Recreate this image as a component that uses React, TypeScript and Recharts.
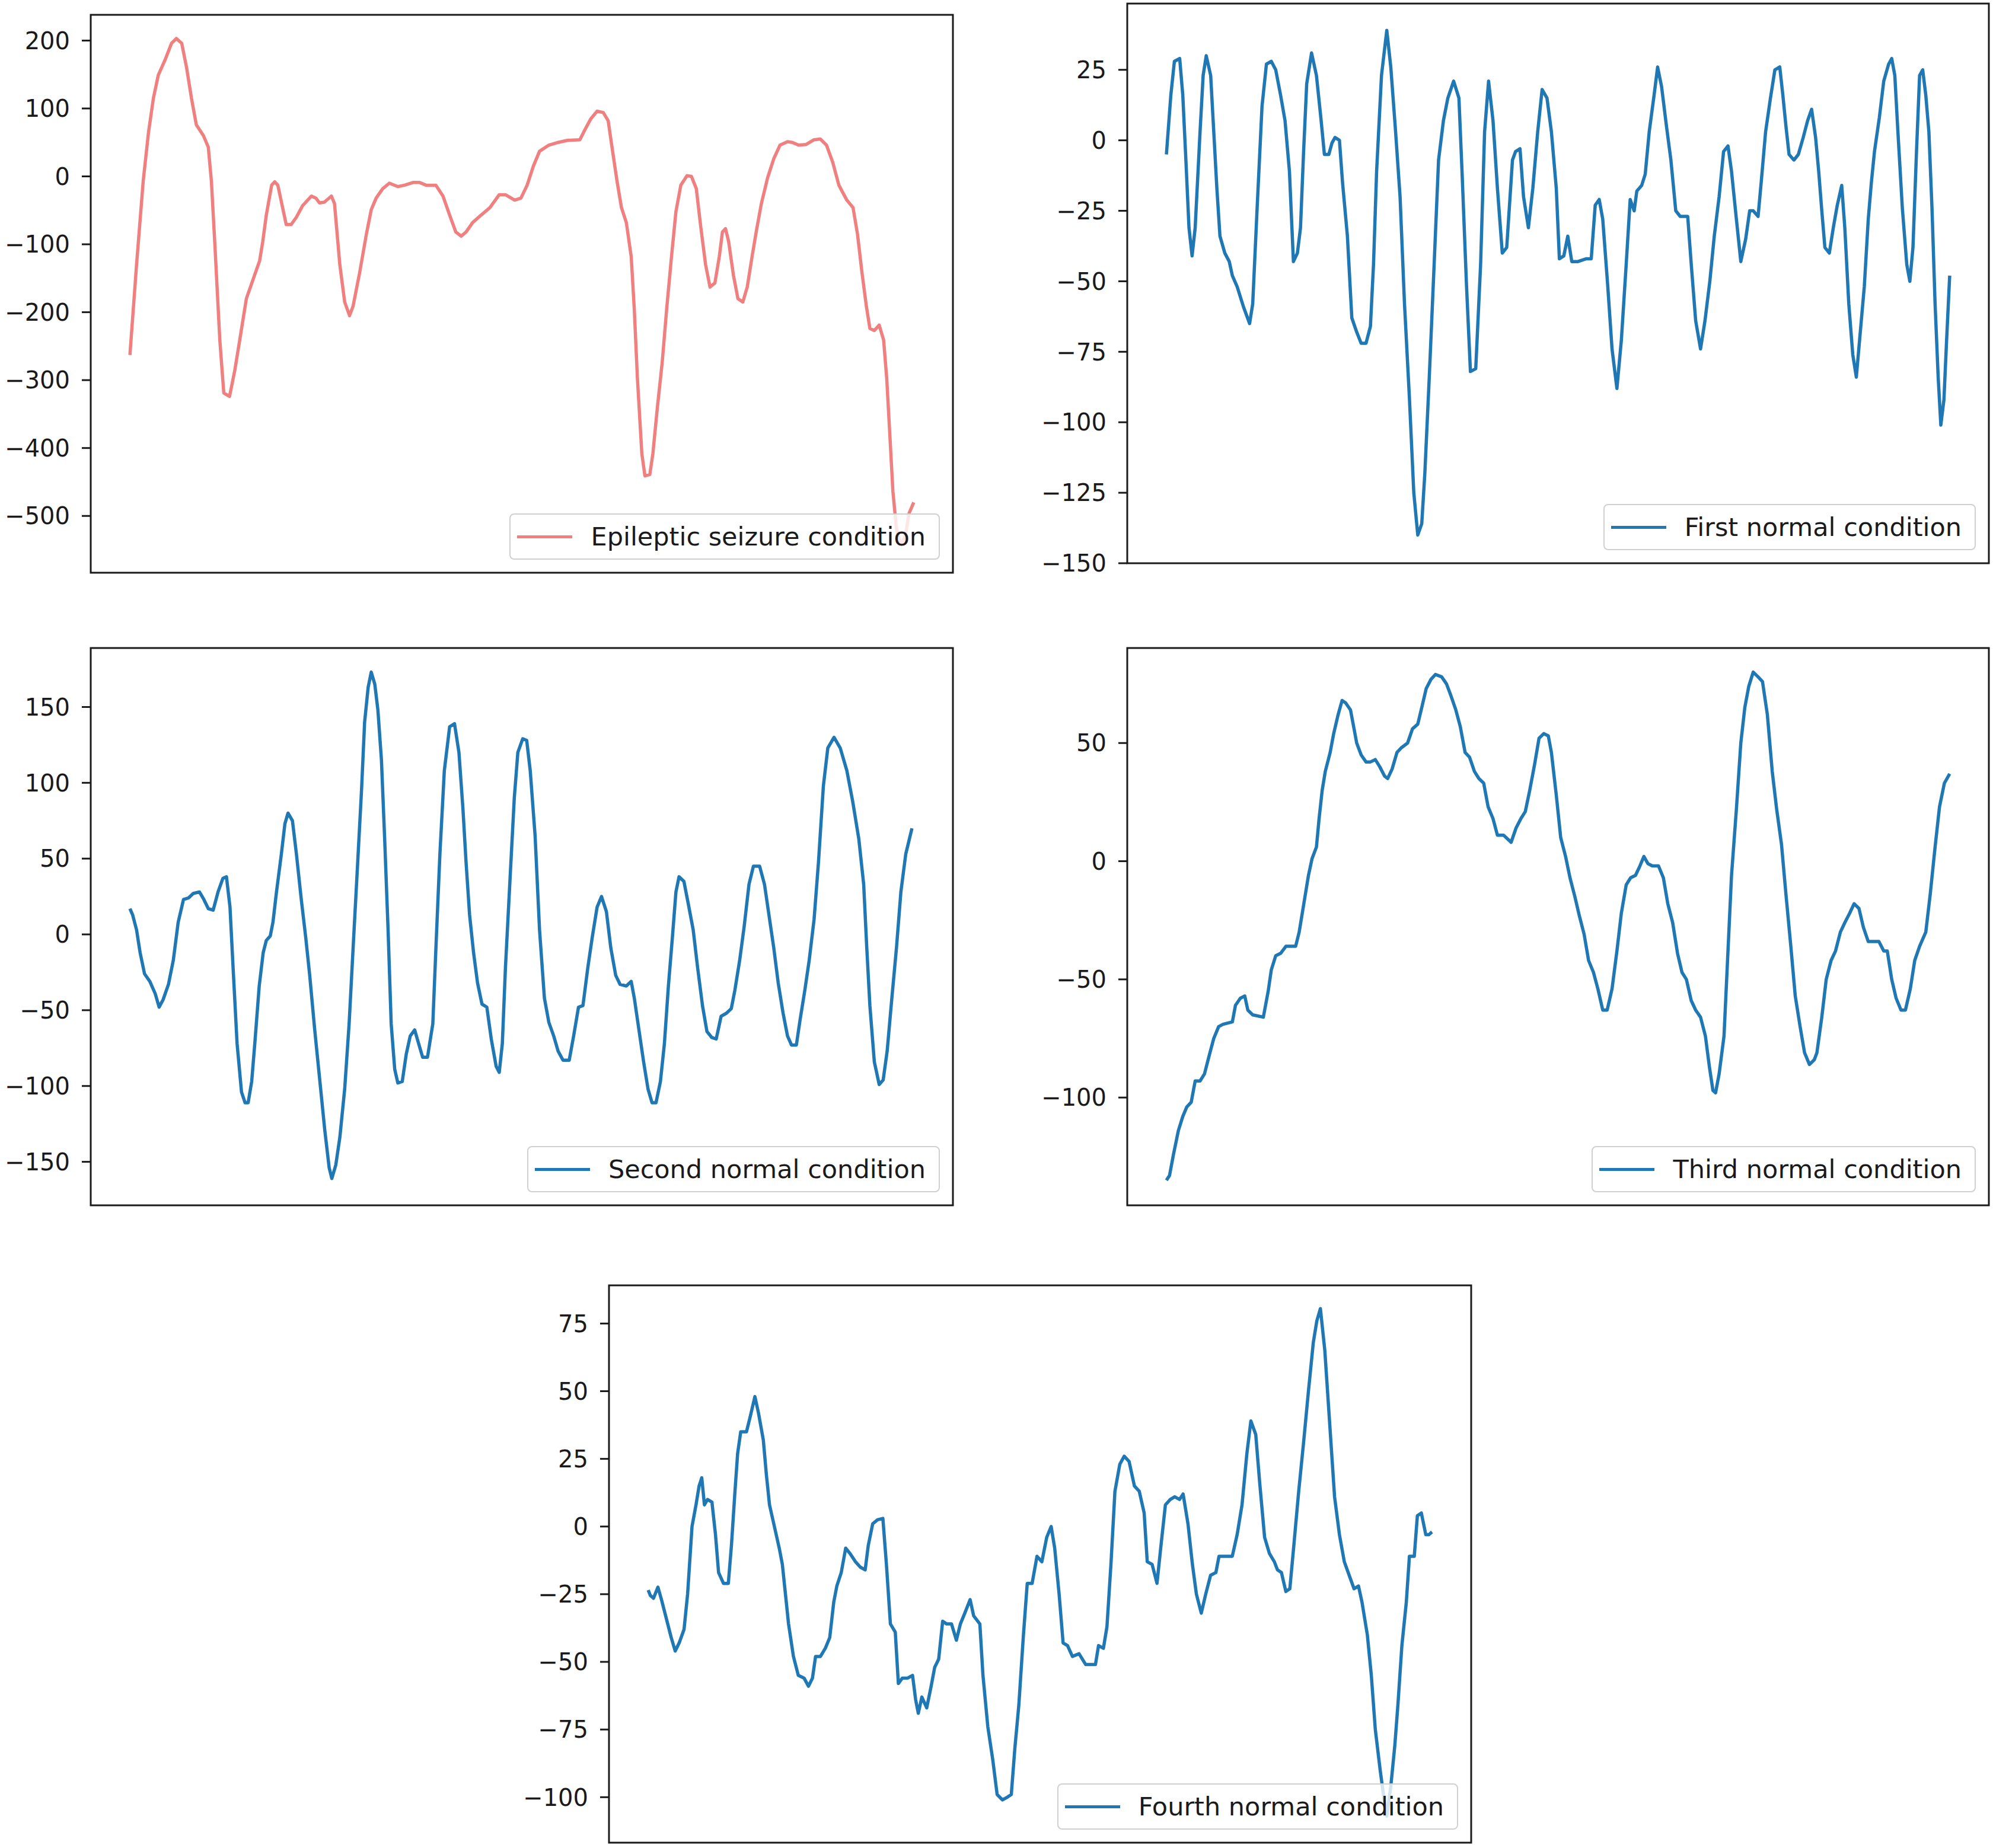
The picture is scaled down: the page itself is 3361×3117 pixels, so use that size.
import React from "react";
import { LineChart, Line, XAxis, YAxis, Legend, ReferenceArea } from "recharts";

// [sample index, amplitude] (178 samples per segment)
type Pt = [number, number];

const seizure: Pt[] = [
  [0, -263], [1.5, -130], [3, -7], [4.2, 65], [5.3, 115], [6.4, 149], [7.9, 171], [9.4, 196],
  [10.5, 203], [11.7, 196], [12.8, 160], [13.9, 115], [15, 76], [16.6, 60], [17.7, 43], [18.4, -7],
  [19.2, -102], [20.3, -241], [21.2, -319], [22.5, -324], [23.7, -285], [24.8, -241], [26.3, -180],
  [27.8, -152], [29.3, -124], [30, -96], [30.8, -57], [32, -13], [32.7, -8], [33.4, -13], [35.3, -71],
  [36.4, -71], [37.6, -60], [39, -43], [41, -29], [42, -32], [42.8, -39], [43.9, -38], [45.5, -29],
  [46.2, -40], [47.4, -130], [48.5, -185], [49.6, -205], [50.4, -191], [51.9, -141], [53.4, -85],
  [54.5, -49], [55.6, -32], [57.1, -18], [58.6, -10], [60.5, -15], [62, -13], [63.9, -9], [65.4, -9],
  [66.9, -13], [69.1, -13], [70.7, -29], [72.2, -57], [73.6, -82], [74.8, -88], [75.9, -82],
  [77.4, -68], [79.3, -57], [81.3, -46], [83.4, -27], [84.8, -27], [86.9, -35], [88.3, -32],
  [89.7, -13], [91.1, 15], [92.5, 37], [94.6, 46], [96.7, 50], [98.8, 53], [101.6, 54], [102.7, 68],
  [104.1, 85], [105.5, 96], [106.9, 94], [108, 82], [109, 37], [110, -7], [111, -46], [112.1, -68],
  [113.2, -118], [113.9, -196], [114.6, -297], [115.6, -408], [116.3, -441], [117.4, -439],
  [118.1, -408], [119.1, -341], [120.2, -274], [121.2, -196], [122.3, -118], [123.3, -52],
  [124.4, -13], [125.8, 1], [126.8, 0], [127.9, -18], [128.9, -74], [130, -130], [131, -163],
  [132.1, -157], [133.1, -118], [133.8, -82], [134.5, -77], [135.2, -96], [136.3, -146],
  [137.3, -180], [138.4, -185], [139.4, -163], [140.5, -118], [141.5, -79], [142.6, -40], [144, -2],
  [145.4, 26], [146.8, 46], [148.5, 51], [149.6, 50], [151, 46], [152.7, 47], [154.5, 54],
  [155.9, 55], [157.3, 46], [158.7, 21], [160.1, -13], [161.9, -35], [163.3, -46], [164.3, -85],
  [165.3, -141], [166.3, -191], [167.1, -224], [168.1, -227], [169.2, -219], [170.2, -241],
  [170.9, -297], [171.6, -380], [172.3, -464], [173.1, -519], [174.1, -542], [175.1, -530],
  [175.9, -497], [177, -480],
];

const firstNormal: Pt[] = [
  [0, -5], [1, 16], [1.8, 28], [3, 29], [3.7, 16], [4.4, -7], [5.1, -31], [5.8, -41], [6.5, -31],
  [7.6, 3], [8.3, 23], [9, 30], [10, 23], [10.7, 3], [11.4, -17], [12.1, -34], [13.2, -40],
  [14.2, -43], [14.9, -48], [16, -52], [17.4, -59], [18.8, -65], [19.5, -58], [20.5, -24],
  [21.6, 12], [22.6, 27], [23.7, 28], [24.7, 25], [25.8, 16], [26.8, 7], [27.8, -11], [28.7, -43],
  [29.6, -40], [30.3, -31], [31, -4], [31.7, 20], [32.8, 31], [33.9, 23], [34.9, 8], [35.7, -5],
  [36.7, -5], [37.4, -1], [38.1, 1], [39.1, 0], [39.8, -15], [40.9, -34], [41.9, -63], [43, -68],
  [44, -72], [45.1, -72], [46.1, -66], [46.8, -44], [47.5, -11], [48.6, 23], [49.8, 39], [50.7, 26],
  [51.7, 5], [52.8, -20], [53.8, -58], [54.9, -91], [55.9, -125], [56.8, -140], [57.7, -136],
  [58.4, -118], [59.4, -84], [60.5, -44], [61.5, -7], [62.6, 7], [63.6, 15], [64.9, 21],
  [66.1, 15], [66.8, -11], [67.8, -51], [68.7, -82], [69.9, -81], [71, -44], [71.9, 3], [72.8, 21],
  [73.8, 7], [74.8, -17], [75.9, -40], [76.9, -38], [78.2, -7], [78.9, -4], [79.9, -3], [80.7, -20],
  [81.8, -31], [82.8, -17], [83.9, 3], [84.9, 18], [86, 15], [87, 3], [88.1, -17], [88.8, -42],
  [89.8, -41], [90.7, -34], [91.6, -43], [93, -43], [94.9, -42], [96, -42], [96.9, -23],
  [97.8, -21], [98.6, -28], [99.7, -51], [100.7, -74], [101.8, -88], [102.8, -71], [103.9, -44],
  [104.8, -21], [105.7, -25], [106.3, -18], [107.4, -16], [108.2, -12], [109.1, 3], [110.2, 16],
  [111, 26], [111.9, 19], [113, 5], [114, -7], [115.1, -25], [116.1, -27], [117.8, -27],
  [118.6, -44], [119.6, -64], [120.7, -74], [121.7, -64], [122.8, -50], [123.8, -34], [124.9, -20],
  [125.9, -4], [126.9, -2], [127.7, -11], [128.8, -28], [129.8, -43], [130.9, -35], [131.8, -25],
  [132.6, -25], [133.7, -27], [134.4, -15], [135.4, 3], [136.5, 15], [137.5, 25], [138.6, 26],
  [139.3, 16], [140, 5], [140.7, -5], [141.8, -7], [142.8, -5], [143.9, 1], [144.9, 7],
  [145.8, 11], [146.7, 1], [147.4, -11], [148.1, -25], [148.8, -38], [149.8, -40], [150.7, -31],
  [151.6, -23], [152.6, -16], [153.3, -31], [154.2, -58], [155.1, -76], [155.9, -84], [156.8, -68],
  [157.7, -52], [158.6, -28], [159.3, -15], [160, -4], [161.1, 8], [162.1, 21], [163.2, 27],
  [163.9, 29], [164.6, 23], [165.3, 3], [166.3, -24], [167.3, -44], [168, -50], [168.7, -38],
  [169.5, -4], [170.2, 23], [170.9, 25], [171.6, 16], [172.3, 3], [173, -24], [173.7, -58],
  [174.4, -84], [175, -101], [175.7, -92], [176.3, -71], [177, -48],
];

const secondNormal: Pt[] = [
  [0, 17], [0.6, 13], [1.5, 3], [2.3, -12], [3.3, -26], [4.5, -31], [5.7, -39], [6.6, -48],
  [7.5, -43], [8.7, -33], [9.8, -17], [10.9, 8], [12.1, 23], [13.2, 24], [14.3, 27], [15.7, 28],
  [16.7, 23], [17.7, 17], [18.8, 16], [19.9, 28], [21, 37], [21.8, 38], [22.6, 18], [23.3, -22],
  [24.2, -72], [25.2, -104], [26, -111], [26.7, -111], [27.5, -97], [28.2, -72], [29.2, -34],
  [30.1, -12], [30.8, -4], [31.7, -1], [32.3, 8], [33.1, 28], [34.2, 53], [35, 73], [35.7, 80],
  [36.7, 75], [37.6, 53], [38.7, 23], [39.7, -2], [40.6, -27], [41.7, -62], [42.9, -97], [44, -129],
  [45, -154], [45.6, -161], [46.5, -152], [47.4, -134], [48.5, -102], [49.5, -59], [50.4, -9],
  [51.3, 40], [52.3, 95], [53, 140], [53.8, 163], [54.5, 173], [55.3, 165], [56, 148], [56.8, 115],
  [57.5, 65], [58.3, 3], [59, -59], [59.8, -89], [60.5, -98], [61.5, -97], [62.4, -79], [63.3, -67],
  [64.3, -63], [65.2, -72], [66.1, -81], [67.2, -81], [68.4, -59], [69.1, -9], [70, 53], [71, 108],
  [72.2, 137], [73.3, 139], [74.3, 120], [75.2, 83], [75.9, 48], [76.7, 13], [77.6, -12],
  [78.5, -32], [79.5, -46], [80.6, -48], [81.6, -69], [82.7, -87], [83.4, -91], [84.1, -72],
  [84.8, -22], [85.9, 40], [86.8, 90], [87.6, 120], [88.7, 129], [89.6, 128], [90.4, 108],
  [91.5, 65], [92.5, 3], [93.6, -42], [94.6, -58], [95.7, -67], [96.7, -77], [97.8, -83],
  [99.2, -83], [100.2, -67], [101.3, -48], [102.3, -47], [103.4, -22], [104.4, -2], [105.5, 18],
  [106.5, 25], [107.6, 15], [108.6, -9], [109.7, -27], [110.7, -33], [112.1, -34], [113.2, -31],
  [113.9, -42], [114.9, -62], [116, -84], [117, -102], [117.9, -111], [118.8, -111], [119.8, -97],
  [120.7, -72], [121.6, -34], [122.5, -2], [123.3, 28], [124, 38], [125.1, 35], [126.1, 20],
  [127.2, 3], [128.2, -22], [129.3, -47], [130.3, -64], [131.4, -68], [132.4, -69], [133.5, -54],
  [134.7, -52], [135.8, -49], [136.6, -37], [137.7, -17], [138.7, 5], [139.8, 33], [140.8, 45],
  [142.2, 45], [143.3, 33], [144.3, 13], [145.4, -9], [146.4, -32], [147.5, -52], [148.5, -67],
  [149.4, -73], [150.5, -73], [151.3, -57], [152.4, -37], [153.4, -17], [154.5, 10], [155.5, 48],
  [156.6, 98], [157.6, 123], [159, 130], [160.4, 123], [161.9, 108], [163.2, 88], [164.6, 63],
  [165.7, 33], [166.4, -9], [167.1, -47], [168.1, -84], [169.2, -99], [170.1, -96], [171, -77],
  [172, -44], [173.1, -9], [174.1, 28], [175.2, 53], [176.6, 70],
];

const thirdNormal: Pt[] = [
  [0, -135], [0.7, -133], [1.6, -124], [2.7, -114], [3.7, -108], [4.6, -104], [5.6, -102],
  [6.5, -93], [7.6, -93], [8.6, -90], [9.7, -82], [10.7, -75], [11.8, -70], [12.8, -69],
  [14.9, -68], [15.6, -61], [16.7, -58], [17.7, -57], [18.4, -63], [19.5, -65], [21.9, -66],
  [23, -55], [23.7, -46], [24.7, -40], [25.8, -39], [27, -36], [29.2, -36], [30, -30], [30.7, -22],
  [31.4, -14], [32.1, -6], [32.9, 1], [33.9, 6], [34.5, 18], [35.2, 30], [35.9, 38], [37, 46],
  [37.8, 54], [38.8, 62], [39.7, 68], [40.5, 67], [41.6, 64], [42.3, 57], [43, 50], [44, 45],
  [45.1, 42], [46.1, 42], [47.2, 43], [48.2, 40], [49.3, 36], [50, 35], [51, 39], [52.1, 46],
  [53.1, 48], [54.5, 50], [55.6, 56], [56.8, 58], [57.7, 65], [58.7, 73], [59.8, 77], [60.8, 79],
  [62.2, 78], [63.3, 75], [64.3, 70], [65.4, 64], [66.4, 57], [67.5, 46], [68.5, 44], [69.6, 38],
  [70.6, 35], [71.7, 33], [72.7, 23], [73.8, 18], [74.8, 11], [76.2, 11], [77.9, 8], [79, 14],
  [80.1, 18], [81.1, 21], [82.1, 30], [83.2, 41], [84.2, 52], [85.3, 54], [86.3, 53], [87, 46],
  [88.1, 28], [89.1, 10], [90.2, 2], [91.2, -7], [92.3, -15], [93.3, -23], [94.4, -31], [95.4, -42],
  [96.5, -47], [97.5, -54], [98.6, -63], [99.6, -63], [100.7, -54], [101.8, -38], [102.8, -22],
  [103.9, -10], [104.9, -7], [106, -6], [107, -2], [107.9, 2], [108.8, -1], [109.8, -2],
  [111.2, -2], [112.3, -7], [113.3, -18], [114.4, -26], [115.5, -39], [116.5, -47], [117.5, -50],
  [118.6, -59], [119.6, -63], [120.7, -66], [121.8, -74], [122.7, -87], [123.5, -97], [124.1, -98],
  [124.9, -90], [126, -74], [126.9, -38], [127.7, -6], [128.8, 22], [129.8, 50], [130.7, 65],
  [131.6, 74], [132.6, 80], [133.7, 78], [134.7, 76], [135.8, 62], [136.9, 38], [137.9, 22],
  [139, 7], [140, -14], [141.1, -36], [142.1, -57], [143.2, -70], [144.2, -81], [145.3, -86],
  [146.4, -84], [147, -81], [148.1, -66], [149.1, -50], [150.2, -42], [151.2, -38], [152.3, -30],
  [153.3, -26], [154.4, -22], [155.4, -18], [156.5, -20], [157.5, -28], [158.6, -34], [161, -34],
  [162.1, -38], [162.9, -38], [163.9, -50], [164.9, -58], [166, -63], [167, -63], [168.1, -54],
  [169.1, -42], [170.2, -36], [171.6, -30], [172.6, -14], [173.7, 6], [174.7, 23], [175.8, 33],
  [177, 37],
];

const fourthNormal: Pt[] = [
  [0, -23.5], [0.5, -25.5], [1.2, -26.5], [2.2, -22.4], [3, -27], [4.1, -34], [5.2, -41],
  [6.1, -46], [7, -43], [8.1, -38], [8.9, -25], [9.9, 0], [10.8, 8], [11.5, 15], [12.1, 18],
  [12.7, 8], [13.4, 10], [14.4, 9], [15.2, -3], [15.9, -17], [17, -21], [18.1, -21], [18.8, -7],
  [19.6, 13], [20.2, 27], [20.9, 35], [22.2, 35], [23.1, 41], [24.1, 48], [24.9, 42], [26, 32],
  [26.7, 19], [27.4, 8], [28.5, 0], [29.6, -8], [30.3, -14], [31, -25], [31.7, -36], [32.8, -48],
  [33.9, -55], [35.2, -56], [36.2, -59], [37.1, -56], [37.8, -48], [38.9, -48], [40, -45],
  [41, -41], [41.9, -28], [42.6, -22], [43.6, -17], [44.6, -8], [45.6, -10], [46.8, -13],
  [47.9, -15], [49, -16], [49.7, -7], [50.7, 1], [51.8, 2.5], [53, 3], [53.8, -14], [54.7, -36],
  [55.8, -39], [56.5, -58], [57.4, -56], [58.6, -56], [59.7, -55], [60.4, -64], [61, -69],
  [61.8, -63], [62.9, -67], [63.9, -59], [64.7, -52], [65.6, -49], [66.5, -35], [67.4, -36],
  [68.5, -36], [69.6, -42], [70.5, -36], [71.5, -32], [72.7, -27], [73.5, -33], [74.9, -36],
  [75.6, -55], [76.7, -74], [77.8, -86], [78.8, -99], [80, -101], [81.1, -100], [82, -99],
  [82.8, -82], [83.7, -66], [84.7, -41], [85.6, -21], [86.7, -21], [87.8, -11], [88.9, -13],
  [90, -4], [91, 0], [91.8, -8], [92.8, -25], [93.7, -43], [94.7, -44], [95.8, -48], [97.3, -47],
  [98.8, -51], [101, -51], [101.7, -44], [102.8, -45], [103.6, -37], [104.5, -14], [105.4, 13],
  [106.5, 23], [107.5, 26], [108.6, 24], [109.8, 15], [110.9, 13], [112, 5], [112.7, -13],
  [113.8, -14], [114.9, -21], [115.8, -7], [116.8, 8], [117.9, 10], [118.9, 11], [120, 10],
  [120.8, 12], [121.9, 1], [122.9, -14], [123.8, -25], [124.9, -32], [125.9, -25], [127, -18],
  [128.2, -17], [128.9, -11], [131.9, -11], [133, -3], [134.1, 8], [135.2, 27], [136.1, 39],
  [137.2, 34], [138.1, 16], [139.2, -4], [140.3, -10], [141.4, -13], [142.1, -16], [143, -17],
  [144, -24], [144.9, -23], [145.8, -7], [146.9, 13], [148, 31], [149.1, 50], [150.2, 68],
  [151, 76], [151.8, 80.5], [152.8, 65], [153.9, 38], [155, 11], [156.1, -3], [157.2, -13],
  [158.3, -18], [159.4, -23], [160.4, -22], [161.2, -28], [162.4, -40], [163.3, -55], [164.2, -75],
  [165.3, -90], [166.2, -101], [166.8, -107], [167.7, -96], [168.6, -81], [169.3, -66],
  [170.2, -44], [171.2, -28], [171.9, -11], [173, -11], [173.7, 4], [174.6, 5], [175.6, -3],
  [176.3, -3], [177, -2],
];

const seizureTicks = [200, 100, 0, -100, -200, -300, -400, -500];
const firstTicks = [25, 0, -25, -50, -75, -100, -125, -150];
const secondTicks = [150, 100, 50, 0, -50, -100, -150];
const thirdTicks = [50, 0, -50, -100];
const fourthTicks = [75, 50, 25, 0, -25, -50, -75, -100];

const FONT = '"DejaVu Sans", Verdana, sans-serif';
const INK = "#1a1a1a";
const RED = "#f08080";
const BLUE = "#1f77b4";
const T_DOMAIN: [number, number] = [-8.85, 185.85];

// room around each plot frame for tick labels
const PAD_L = 160;
const PAD_T = 40;
const PAD_R = 20;
const PAD_B = 40;

const frameLine = { stroke: INK, strokeWidth: 3 };
const minus = (v: number) => String(v).replace("-", "\u2212");

interface PanelProps {
  name: string;
  points: Pt[];
  color: string;
  ticks: number[];
  yDomain: [number, number];
  left: number;
  top: number;
  width: number;
  height: number;
}

function LegendBox({ name, color }: { name: string; color: string }) {
  return (
    <div
      style={{
        display: "inline-flex",
        alignItems: "center",
        boxSizing: "border-box",
        height: 78,
        padding: "0 22px 0 11px",
        border: "2px solid #d0d0d0",
        borderRadius: 8,
        background: "rgba(255,255,255,0.8)",
        fontFamily: FONT,
        fontSize: 43,
        color: INK,
        whiteSpace: "nowrap",
      }}
    >
      <span style={{ display: "inline-block", width: 93, height: 5, background: color, marginRight: 31 }} />
      <span>{name}</span>
    </div>
  );
}

function Panel({ name, points, color, ticks, yDomain, left, top, width, height }: PanelProps) {
  const data = points.map(([t, v]) => ({ t, v }));
  return (
    <div style={{ position: "absolute", left: left - PAD_L, top: top - PAD_T }}>
      <LineChart
        width={width + PAD_L + PAD_R}
        height={height + PAD_T + PAD_B}
        data={data}
        margin={{ top: PAD_T, right: PAD_R, bottom: PAD_B, left: 0 }}
      >
        <XAxis dataKey="t" type="number" domain={T_DOMAIN} allowDataOverflow hide />
        <YAxis
          type="number"
          domain={yDomain}
          allowDataOverflow
          ticks={ticks}
          interval={0}
          width={PAD_L}
          tickSize={15}
          tickMargin={20}
          tickLine={frameLine}
          axisLine={false}
          tick={{ fill: INK, fontSize: 40, fontFamily: FONT }}
          tickFormatter={minus}
        />
        <Line
          dataKey="v"
          type="linear"
          stroke={color}
          strokeWidth={5.5}
          strokeLinejoin="round"
          dot={false}
          activeDot={false}
          isAnimationActive={false}
        />
        {/* plot frame */}
        <ReferenceArea
          x1={T_DOMAIN[0]}
          x2={T_DOMAIN[1]}
          y1={yDomain[0]}
          y2={yDomain[1]}
          fill="none"
          fillOpacity={0}
          stroke={INK}
          strokeWidth={3}
          ifOverflow="visible"
        />
        <Legend
          layout="horizontal"
          verticalAlign="middle"
          align="center"
          wrapperStyle={{ right: PAD_R + 22, bottom: PAD_B + 22, width: "auto", height: "auto" }}
          content={() => <LegendBox name={name} color={color} />}
        />
      </LineChart>
    </div>
  );
}

export default function App() {
  return (
    <div
      style={{
        position: "absolute",
        left: 0,
        top: 0,
        width: 3361,
        height: 3117,
        overflow: "hidden",
        background: "#ffffff",
        fontFamily: FONT,
      }}
    >
      <Panel name="Epileptic seizure condition" points={seizure} color={RED} ticks={seizureTicks}
        yDomain={[-583.6, 237.9]} left={153} top={25} width={1454} height={941} />
      <Panel name="First normal condition" points={firstNormal} color={BLUE} ticks={firstTicks}
        yDomain={[-150, 48.5]} left={1901} top={6} width={1453} height={944} />
      <Panel name="Second normal condition" points={secondNormal} color={BLUE} ticks={secondTicks}
        yDomain={[-178.7, 188.9]} left={153} top={1093} width={1454} height={940} />
      <Panel name="Third normal condition" points={thirdNormal} color={BLUE} ticks={thirdTicks}
        yDomain={[-145.6, 90.2]} left={1901} top={1093} width={1453} height={940} />
      <Panel name="Fourth normal condition" points={fourthNormal} color={BLUE} ticks={fourthTicks}
        yDomain={[-116.8, 89.1]} left={1027} top={2168} width={1454} height={940} />
    </div>
  );
}
